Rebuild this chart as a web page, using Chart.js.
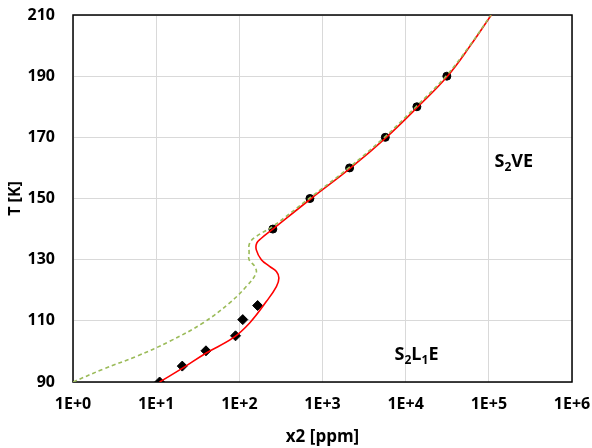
<!DOCTYPE html>
<html>
<head>
<meta charset="utf-8">
<script src="https://cdn.jsdelivr.net/npm/chart.js@4.4.1/dist/chart.umd.min.js"></script>
<style>
  html, body { margin: 0; padding: 0; background: #fff; }
  #wrap { width: 592px; height: 448px; }
</style>
</head>
<body>
<div id="wrap"><canvas id="phaseChart"></canvas></div>
<script>
// data
const xTicks = [1, 10, 100, 1e3, 1e4, 1e5, 1e6];

// black diamonds (S2L1E measurements)
const diamondX = [11, 20.6, 39.7, 90, 110, 166];
const diamondT = [90, 95.2, 100.2, 105.1, 110.4, 115];

// black circles (S2VE measurements)
const circleX = [253, 706, 2117, 5690, 13640, 31270];
const circleT = [140, 150, 160, 170, 180, 190];

// red solid curve
const redX = [11, 21, 40, 84, 133, 211, 279, 299, 279, 231, 184, 160, 162, 184, 253, 730, 2180, 5850, 14000, 31800, 60000, 107000];
const redT = [90, 94.6, 99.5, 104.4, 109.3, 116.3, 121.2, 124, 126.1, 127.8, 130, 133.2, 135.4, 137, 140, 150, 160, 170, 180, 190, 200, 210];

// green dashed curve
const greenX = [1, 2.3, 5.8, 14.5, 36.5, 76, 121, 159, 153, 131, 131, 133, 160, 250, 690, 2060, 5550, 13300, 30500, 59000, 106000];
const greenT = [90, 94.2, 98.4, 103.3, 109.3, 115.8, 121.2, 125.6, 127.8, 130, 132.2, 135.4, 137.6, 140.8, 150, 160, 170, 180, 190, 200, 210];

// region labels: [text, isSubscript] pieces, anchored at left / middle
const regionLabels = [
    { parts: [['S', 0], ['2', 1], ['VE', 0]], x: 117000, t: 162.4 },
    { parts: [['S', 0], ['2', 1], ['L', 0], ['1', 1], ['E', 0]], x: 7360, t: 99.2 }
];

const pts = (xs, ys) => xs.map((x, i) => ({ x: x, y: ys[i] }));

const FONT = '"Open Sans", "DejaVu Sans", sans-serif';

// frame round the plot area
const framePlugin = {
    id: 'frame',
    beforeDatasetsDraw(chart) {
        const { ctx, chartArea: a } = chart;
        ctx.save();
        ctx.strokeStyle = '#000';
        ctx.lineWidth = 1.5;
        ctx.strokeRect(a.left, a.top, a.right - a.left, a.bottom - a.top);
        ctx.restore();
    }
};

// S2VE / S2L1E labels with subscripts
const labelPlugin = {
    id: 'regionLabels',
    afterDatasetsDraw(chart) {
        const { ctx, scales } = chart;
        ctx.save();
        ctx.fillStyle = '#000';
        ctx.textBaseline = 'alphabetic';
        ctx.textAlign = 'left';
        regionLabels.forEach(lab => {
            let px = scales.x.getPixelForValue(lab.x);
            const py = scales.y.getPixelForValue(lab.t) + 6;
            lab.parts.forEach(([txt, sub]) => {
                ctx.font = sub ? 'bold 12px ' + FONT : 'bold 18px ' + FONT;
                ctx.fillText(txt, px, sub ? py + 4 : py);
                px += ctx.measureText(txt).width;
            });
        });
        ctx.restore();
    }
};

new Chart(document.getElementById('phaseChart'), {
    type: 'scatter',
    data: {
        datasets: [
            {
                label: 'green',
                data: pts(greenX, greenT),
                showLine: true,
                borderColor: '#9bbb59',
                borderWidth: 1.6,
                borderDash: [4, 3],
                pointRadius: 0,
                tension: 0.4
            },
            {
                label: 'red',
                data: pts(redX, redT),
                showLine: true,
                borderColor: '#ff0000',
                borderWidth: 1.6,
                pointRadius: 0,
                tension: 0.4
            },
            {
                label: 'diamonds',
                data: pts(diamondX, diamondT),
                pointStyle: 'rectRot',
                pointRadius: 5,
                backgroundColor: '#000',
                borderColor: '#000',
                showLine: false
            },
            {
                label: 'circles',
                data: pts(circleX, circleT),
                pointStyle: 'circle',
                pointRadius: 4,
                backgroundColor: '#000',
                borderColor: '#000',
                showLine: false
            }
        ]
    },
    options: {
        responsive: true,
        maintainAspectRatio: false,
        animation: false,
        layout: { padding: { top: 15, right: 20, left: 0, bottom: 0 } },
        plugins: {
            legend: { display: false },
            tooltip: { enabled: false }
        },
        scales: {
            x: {
                type: 'logarithmic',
                min: 1,
                max: 1e6,
                afterBuildTicks: scale => { scale.ticks = xTicks.map(v => ({ value: v })); },
                afterFit: scale => {
                    scale.height = 66;
                    scale.paddingLeft = 0;
                    scale.paddingRight = 0;
                },
                ticks: {
                    callback: v => '1E+' + Math.round(Math.log10(v)),
                    color: '#000',
                    font: { family: FONT, size: 16, weight: 'bold' },
                    padding: 13,
                    maxRotation: 0,
                    autoSkip: false
                },
                grid: { color: '#d9d9d9', lineWidth: 1, drawTicks: false },
                border: { display: false },
                title: {
                    display: true,
                    text: 'x2 [ppm]',
                    color: '#000',
                    font: { family: FONT, size: 17, weight: 'bold' },
                    padding: { top: 0, bottom: 1 }
                }
            },
            y: {
                min: 90,
                max: 210,
                afterFit: scale => {
                    scale.width = 73;
                    scale.paddingTop = 0;
                    scale.paddingBottom = 0;
                },
                ticks: {
                    stepSize: 20,
                    color: '#000',
                    font: { family: FONT, size: 16, weight: 'bold' },
                    padding: 18
                },
                grid: { color: '#d9d9d9', lineWidth: 1, drawTicks: false },
                border: { display: false },
                title: {
                    display: true,
                    text: 'T [K]',
                    color: '#000',
                    font: { family: FONT, size: 16, weight: 'bold' },
                    padding: { top: 6, bottom: 0 }
                }
            }
        }
    },
    plugins: [framePlugin, labelPlugin]
});
</script>
</body>
</html>
